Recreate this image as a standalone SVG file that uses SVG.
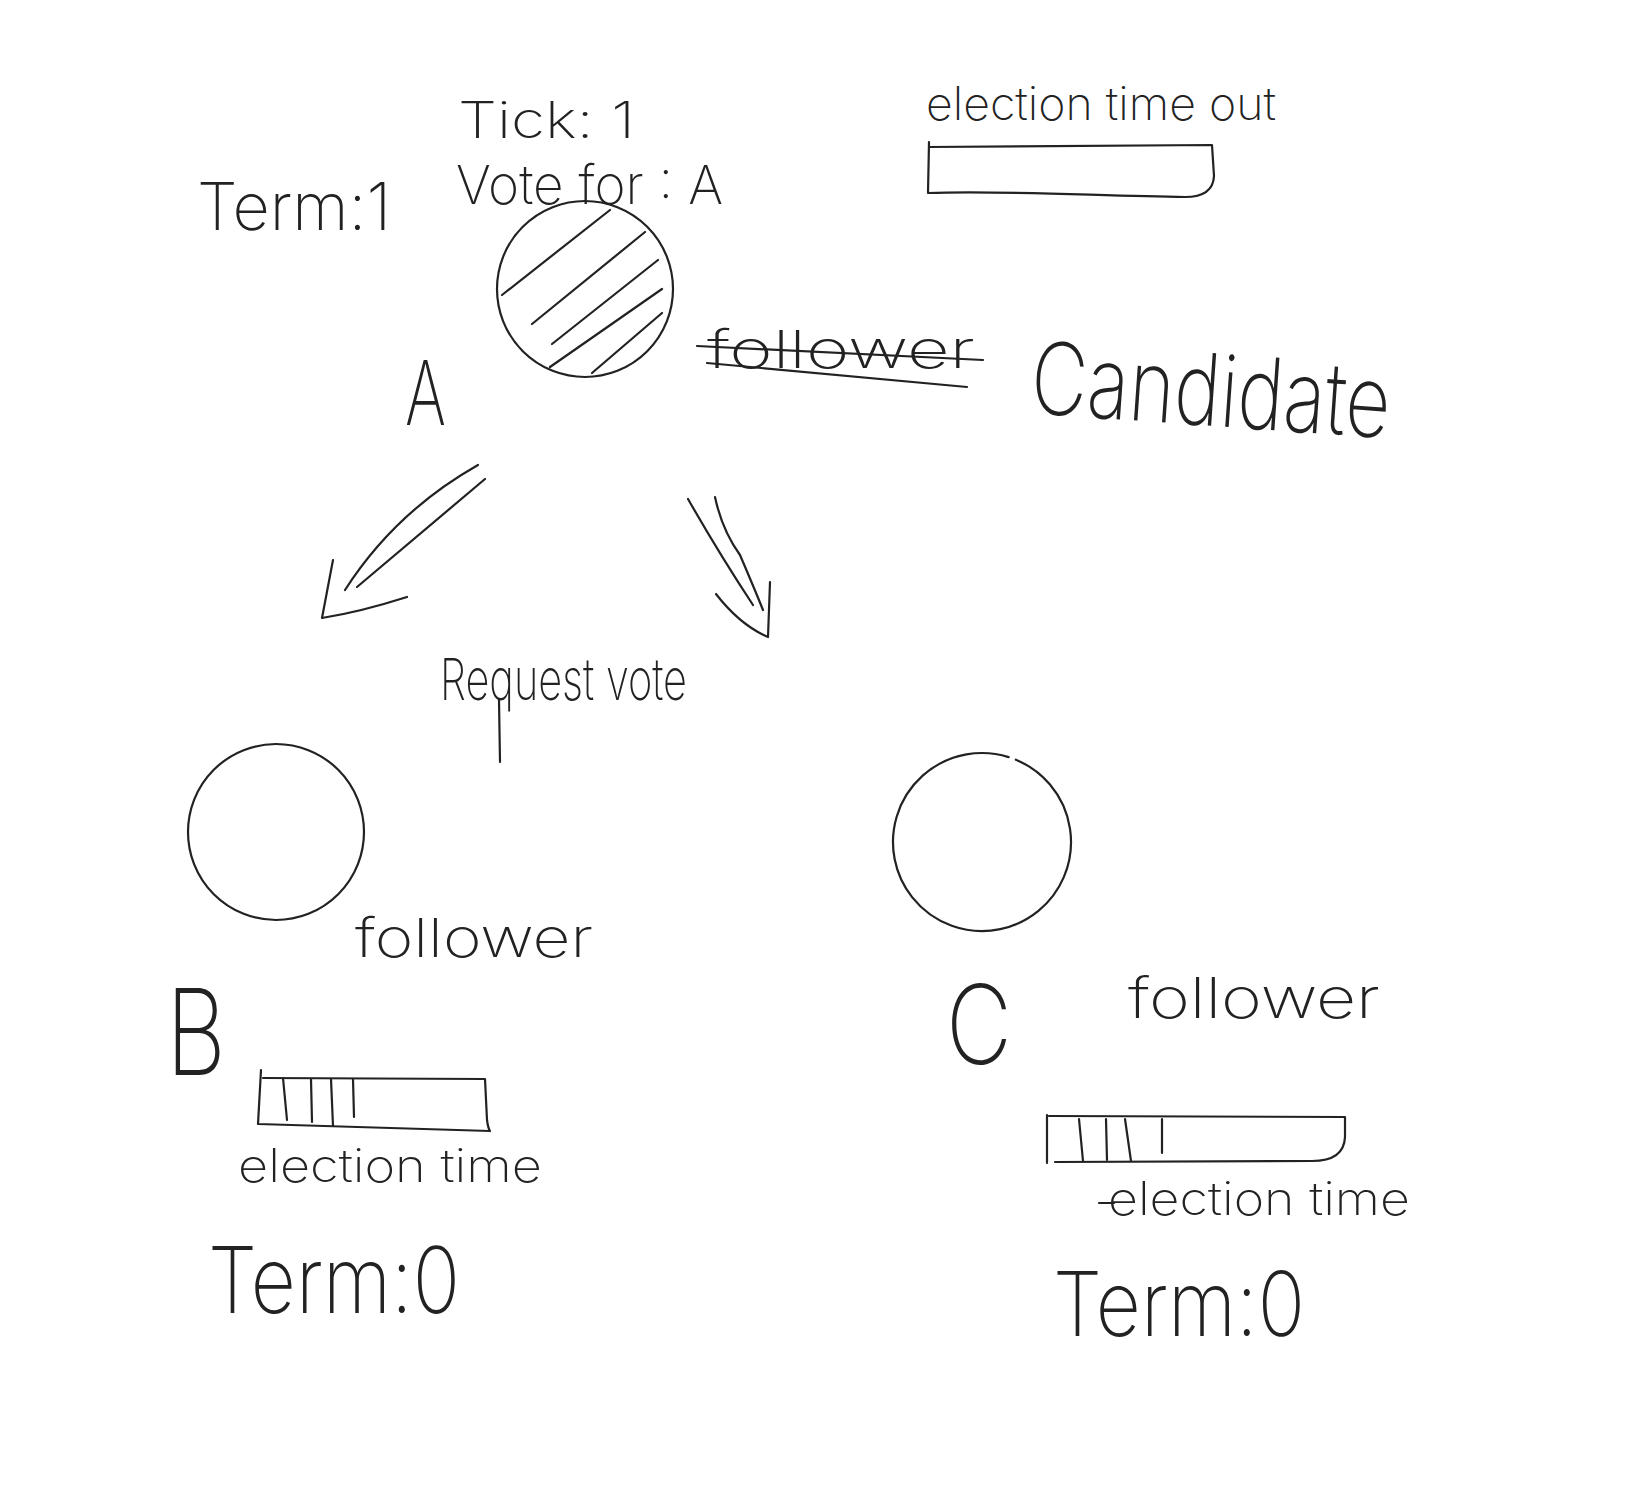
<svg xmlns="http://www.w3.org/2000/svg" width="1626" height="1512" viewBox="0 0 1626 1512">
<style>
  .ink { fill: none; stroke: #222; stroke-width: 2.2; stroke-linecap: round; stroke-linejoin: round; }
  .hw { font-family: Inter, "Open Sans", "Liberation Sans", sans-serif; font-weight: 200; fill: #222; }
</style>
<rect width="1626" height="1512" fill="#ffffff"/>

<g id="legend-timeout">
  <text class="hw" x="926" y="120" font-size="46" textLength="350" lengthAdjust="spacingAndGlyphs">election time out</text>
  <path class="ink" d="M 929 142 L 928 193 C 1000 190 1100 196 1185 197 Q 1213 197 1214 176 L 1212 145 L 929 147"/>
</g>

<g id="node-A">
  <circle class="ink" cx="585" cy="289" r="88"/>
  <path class="ink" d="M 502 295 L 610 210 M 532 324 L 645 232 M 552 344 L 658 260 M 550 367 L 662 289 M 592 373 L 662 313"/>
  <text class="hw" x="197" y="230" font-size="66" textLength="194" lengthAdjust="spacingAndGlyphs">Term:1</text>
  <text class="hw" x="458" y="138" font-size="50" textLength="177" lengthAdjust="spacingAndGlyphs">Tick: 1</text>
  <text class="hw" x="456" y="204" font-size="54" textLength="267" lengthAdjust="spacingAndGlyphs">Vote for : A</text>
  <text class="hw" x="405" y="425" font-size="90" textLength="41" lengthAdjust="spacingAndGlyphs">A</text>
  <text class="hw" x="707" y="368" font-size="52" textLength="268" lengthAdjust="spacingAndGlyphs">follower</text>
  <path class="ink" d="M 697 346 L 983 360 M 707 363 L 967 387"/>
  <text class="hw" x="1029" y="413" font-size="100" textLength="360" lengthAdjust="spacingAndGlyphs" transform="rotate(4 1029 413)">Candidate</text>
</g>

<g id="connectors">
  <path class="ink" d="M 478 465 Q 395 512 345 590 M 485 479 L 357 587 M 333 560 L 322 618 Q 360 612 407 597"/>
  <path class="ink" d="M 688 499 Q 720 555 753 605 M 715 497 Q 722 530 740 555 Q 755 590 763 610 M 716 594 Q 740 625 768 637 L 770 582"/>
  <text class="hw" x="440" y="700" font-size="58" textLength="247" lengthAdjust="spacingAndGlyphs">Request vote</text>
  <path class="ink" d="M 499 700 L 500 762"/>
</g>

<g id="node-B">
  <circle class="ink" cx="276" cy="832" r="88"/>
  <text class="hw" x="355" y="957" font-size="54" textLength="238" lengthAdjust="spacingAndGlyphs">follower</text>
  <text class="hw" x="166" y="1075" font-size="120" textLength="60" lengthAdjust="spacingAndGlyphs">B</text>
  <path class="ink" d="M 261 1070 L 258 1124 L 490 1131 M 263 1078 L 485 1079 L 487 1120 Q 488 1128 490 1131"/>
  <path class="ink" d="M 283 1078 L 287 1120 M 311 1079 L 312 1122 M 331 1079 L 333 1126 M 353 1079 L 354 1117"/>
  <text class="hw" x="238" y="1182" font-size="46" textLength="304" lengthAdjust="spacingAndGlyphs">election time</text>
  <text class="hw" x="208" y="1313" font-size="92" textLength="252" lengthAdjust="spacingAndGlyphs">Term:0</text>
</g>

<g id="node-C">
  <path class="ink" d="M 1015.8 759.7 A 89 89 0 1 1 1008.6 757.1"/>
  <text class="hw" x="946" y="1064" font-size="110" textLength="66" lengthAdjust="spacingAndGlyphs">C</text>
  <text class="hw" x="1128" y="1018" font-size="56" textLength="252" lengthAdjust="spacingAndGlyphs">follower</text>
  <path class="ink" d="M 1047 1115 L 1047 1163 M 1049 1116 L 1345 1117 L 1345 1137 Q 1344 1161 1312 1161 L 1055 1162"/>
  <path class="ink" d="M 1079 1119 L 1083 1161 M 1106 1119 L 1107 1160 M 1125 1119 L 1131 1161 M 1162 1119 L 1162 1153"/>
  <path class="ink" d="M 1099 1203 L 1114 1203"/>
  <text class="hw" x="1108" y="1215" font-size="46" textLength="302" lengthAdjust="spacingAndGlyphs">election time</text>
  <text class="hw" x="1053" y="1336" font-size="90" textLength="252" lengthAdjust="spacingAndGlyphs">Term:0</text>
</g>
</svg>
